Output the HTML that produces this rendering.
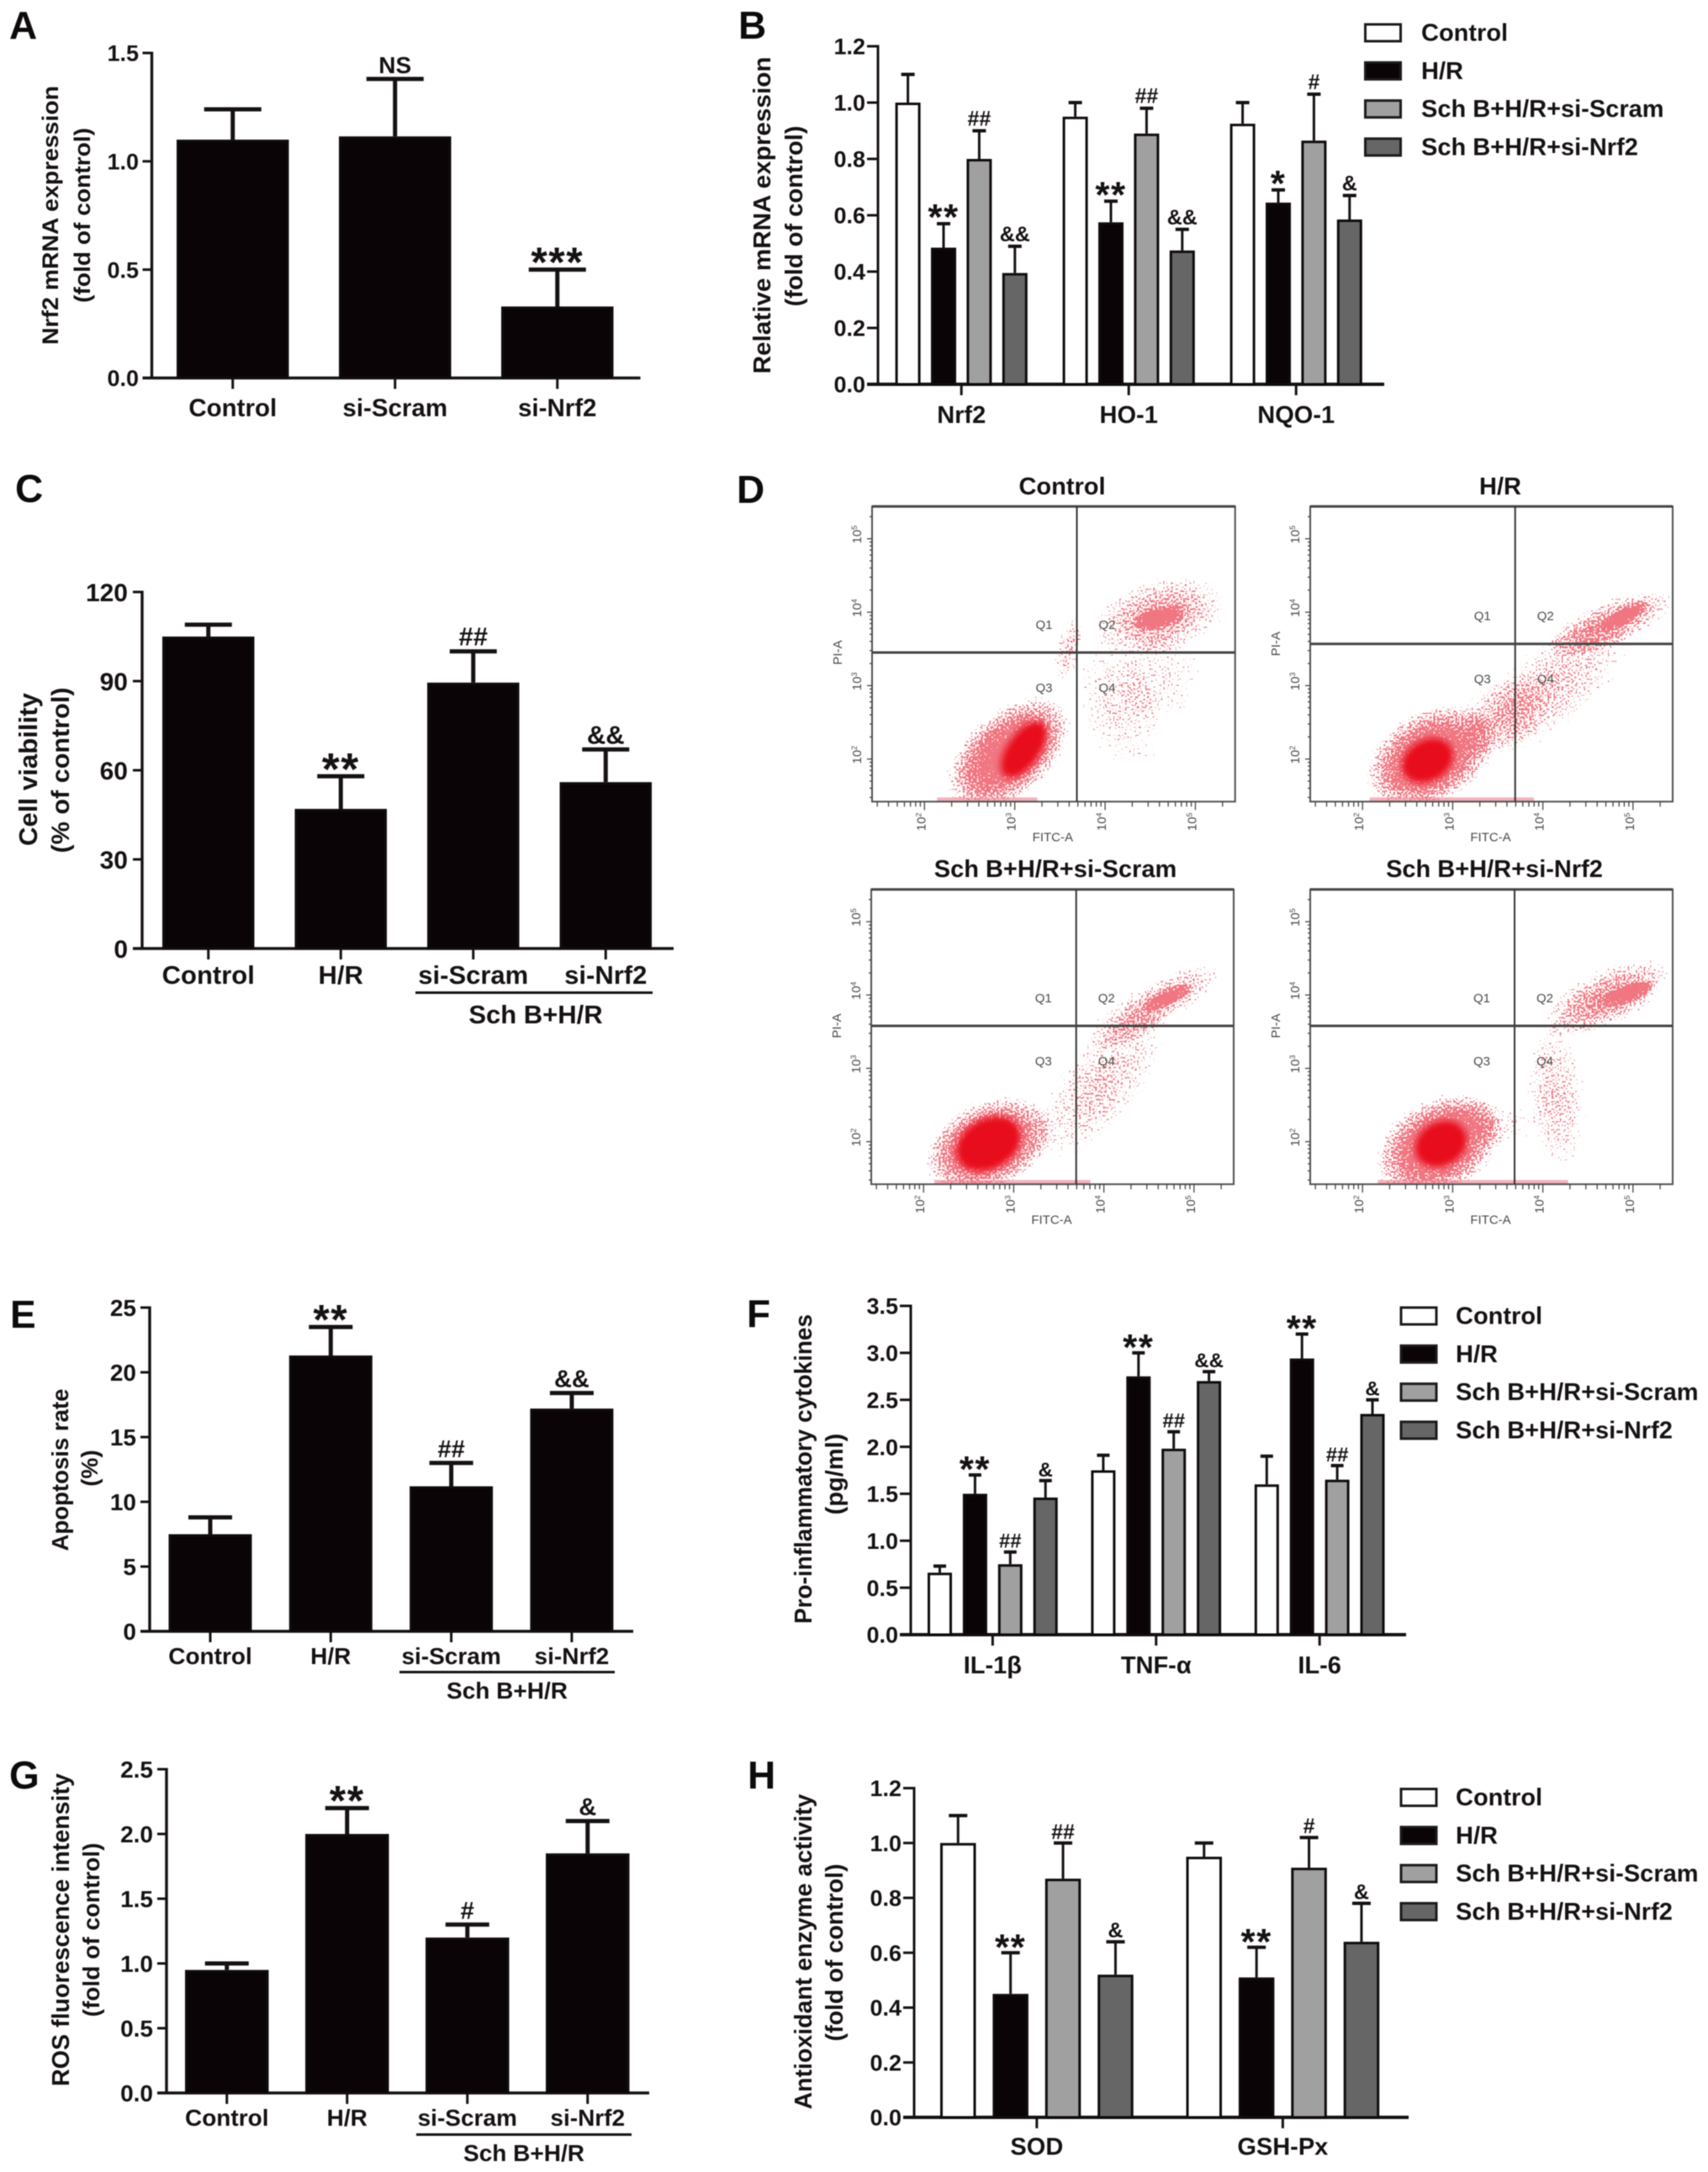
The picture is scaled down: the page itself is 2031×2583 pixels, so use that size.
<!DOCTYPE html>
<html lang="en">
<head>
<meta charset="utf-8">
<title>Schisandrin B figure panels</title>
<style>
html,body{margin:0;padding:0;background:#fff;}
#figure{display:block;width:2031px;height:2583px;filter:blur(0.5px);font-family:"Liberation Sans",Arial,sans-serif;}
text{font-family:"Liberation Sans",Arial,sans-serif;font-weight:700;fill:#161214;}
.ytitle{text-anchor:middle;}
.letter{font-size:46px;fill:#0d0b0c;}
.flowtitle{font-size:29px;text-anchor:middle;}
.small{font-size:15px;font-weight:400;fill:#4a4a4a;text-anchor:middle;}
.group{text-anchor:middle;}
</style>
</head>
<body>
<svg id="figure" xmlns="http://www.w3.org/2000/svg" width="2031" height="2583" viewBox="0 0 2031 2583">
  <defs>
    <radialGradient id="cloud-gradient">
      <stop offset="0" stop-color="#000" stop-opacity="0.98"/>
      <stop offset="0.55" stop-color="#000" stop-opacity="0.68"/>
      <stop offset="0.85" stop-color="#000" stop-opacity="0.34"/>
      <stop offset="1" stop-color="#000" stop-opacity="0"/>
    </radialGradient>
    <filter id="speckle" x="-15%" y="-15%" width="130%" height="130%" color-interpolation-filters="sRGB">
      <feTurbulence type="fractalNoise" baseFrequency="0.42" numOctaves="1" seed="11" result="noise"/>
      <feColorMatrix in="noise" type="matrix" values="0 0 0 0 0  0 0 0 0 0  0 0 0 0 0  1.5 0 0 0 -0.25" result="noiseAlpha"/>
      <feComposite in="SourceAlpha" in2="noiseAlpha" operator="arithmetic" k1="0" k2="1" k3="1" k4="0" result="sum"/>
      <feComponentTransfer in="sum" result="mask"><feFuncA type="linear" slope="10" intercept="-9.3"/></feComponentTransfer>
      <feFlood flood-color="#e6182a" flood-opacity="0.85" result="red"/>
      <feComposite in="red" in2="mask" operator="in" result="dots"/>
      <feComponentTransfer in="SourceAlpha" result="support"><feFuncA type="linear" slope="30" intercept="0"/></feComponentTransfer>
      <feComposite in="dots" in2="support" operator="in"/>
    </filter>
    <filter id="soft" x="-20%" y="-20%" width="140%" height="140%"><feGaussianBlur stdDeviation="4"/></filter>
  </defs>

  <rect x="0" y="0" width="2031" height="2583" fill="#ffffff"/>

  <g id="panel-a">
    <text class="letter" x="11" y="46">A</text>
    <text class="ytitle" font-size="27" textLength="308" lengthAdjust="spacingAndGlyphs" transform="translate(69,256) rotate(-90)">Nrf2 mRNA expression</text>
    <text class="ytitle" font-size="27" textLength="208" lengthAdjust="spacingAndGlyphs" transform="translate(107,256) rotate(-90)">(fold of control)</text>
  </g>

  <g id="panel-b">
    <text class="letter" x="878" y="46">B</text>
    <text class="ytitle" font-size="29" textLength="377" lengthAdjust="spacingAndGlyphs" transform="translate(916,256) rotate(-90)">Relative mRNA expression</text>
    <text class="ytitle" font-size="29" textLength="215" lengthAdjust="spacingAndGlyphs" transform="translate(954,257) rotate(-90)">(fold of control)</text>
  </g>

  <g id="panel-c">
    <text class="letter" x="18" y="597">C</text>
    <text class="ytitle" font-size="31" textLength="182" lengthAdjust="spacingAndGlyphs" transform="translate(44,915) rotate(-90)">Cell viability</text>
    <text class="ytitle" font-size="30" textLength="197" lengthAdjust="spacingAndGlyphs" transform="translate(82,916) rotate(-90)">(% of control)</text>
    <rect x="494" y="1179" width="282" height="3" fill="#161214"/>
    <text class="group" font-size="31" x="637" y="1217">Sch B+H/R</text>
  </g>

  <g id="panel-d">
    <text class="letter" x="876" y="598">D</text>
    <text class="flowtitle" x="1263" y="588">Control</text>
    <text class="flowtitle" x="1784" y="588">H/R</text>
    <text class="flowtitle" x="1255" y="1043">Sch B+H/R+si-Scram</text>
    <text class="flowtitle" x="1777" y="1043">Sch B+H/R+si-Nrf2</text>
  </g>

  <g id="panel-e">
    <text class="letter" x="12" y="1579">E</text>
    <text class="ytitle" font-size="28" textLength="193" lengthAdjust="spacingAndGlyphs" transform="translate(81,1748) rotate(-90)">Apoptosis rate</text>
    <text class="ytitle" font-size="28" transform="translate(116,1746) rotate(-90)">(%)</text>
    <rect x="475" y="1987" width="256" height="3" fill="#161214"/>
    <text class="group" font-size="28" x="603" y="2020">Sch B+H/R</text>
  </g>

  <g id="panel-f">
    <text class="letter" x="888" y="1578">F</text>
    <text class="ytitle" font-size="29" textLength="368" lengthAdjust="spacingAndGlyphs" transform="translate(965,1747) rotate(-90)">Pro-inflammatory cytokines</text>
    <text class="ytitle" font-size="29" transform="translate(1002,1753) rotate(-90)">(pg/ml)</text>
  </g>

  <g id="panel-g">
    <text class="letter" x="11" y="2127">G</text>
    <text class="ytitle" font-size="29" textLength="372" lengthAdjust="spacingAndGlyphs" transform="translate(82,2295) rotate(-90)">ROS fluorescence intensity</text>
    <text class="ytitle" font-size="28" textLength="207" lengthAdjust="spacingAndGlyphs" transform="translate(118,2295) rotate(-90)">(fold of control)</text>
    <rect x="495" y="2537" width="256" height="3" fill="#161214"/>
    <text class="group" font-size="28" x="623" y="2570">Sch B+H/R</text>
  </g>

  <g id="panel-h">
    <text class="letter" x="889" y="2127">H</text>
    <text class="ytitle" font-size="29" textLength="375" lengthAdjust="spacingAndGlyphs" transform="translate(965,2321) rotate(-90)">Antioxidant enzyme activity</text>
    <text class="ytitle" font-size="29" textLength="211" lengthAdjust="spacingAndGlyphs" transform="translate(1002,2322) rotate(-90)">(fold of control)</text>
  </g>
</svg>

<script>
// ---------- Chart data ----------
const seriesNames = ['Control', 'H/R', 'Sch B+H/R+si-Scram', 'Sch B+H/R+si-Nrf2'];

// Panel A
const panelACategories = ['Control', 'si-Scram', 'si-Nrf2'];
const panelATicks = ['0.0', '0.5', '1.0', '1.5'];
const panelATickValues = [0, 0.5, 1.0, 1.5];
const panelAMeans = [1.10, 1.115, 0.33];
const panelAUppers = [1.24, 1.38, 0.50];
const panelAMarks = ['', 'NS', '***'];

// Panel B
const panelBCategories = ['Nrf2', 'HO-1', 'NQO-1'];
const panelBTicks = ['0.0', '0.2', '0.4', '0.6', '0.8', '1.0', '1.2'];
const panelBTickValues = [0, 0.2, 0.4, 0.6, 0.8, 1.0, 1.2];
const panelBControl = [1.0, 0.95, 0.925];
const panelBHR = [0.485, 0.575, 0.645];
const panelBScram = [0.80, 0.89, 0.865];
const panelBNrf2 = [0.395, 0.475, 0.585];
const panelBControlUpper = [1.10, 1.0, 1.0];
const panelBHRUpper = [0.57, 0.65, 0.69];
const panelBScramUpper = [0.90, 0.98, 1.03];
const panelBNrf2Upper = [0.49, 0.55, 0.67];
const panelBHRMarks = ['**', '**', '*'];
const panelBScramMarks = ['##', '##', '#'];
const panelBNrf2Marks = ['&&', '&&', '&'];

// Panel C
const panelCCategories = ['Control', 'H/R', 'si-Scram', 'si-Nrf2'];
const panelCTicks = ['0', '30', '60', '90', '120'];
const panelCTickValues = [0, 30, 60, 90, 120];
const panelCMeans = [105, 47, 89.5, 56];
const panelCUppers = [109, 58, 100, 67];
const panelCMarks = ['', '**', '##', '&&'];

// Panel E
const panelECategories = ['Control', 'H/R', 'si-Scram', 'si-Nrf2'];
const panelETicks = ['0', '5', '10', '15', '20', '25'];
const panelETickValues = [0, 5, 10, 15, 20, 25];
const panelEMeans = [7.5, 21.3, 11.2, 17.2];
const panelEUppers = [8.8, 23.5, 13.0, 18.4];
const panelEMarks = ['', '**', '##', '&&'];

// Panel F
const panelFCategories = ['IL-1\u03B2', 'TNF-\u03B1', 'IL-6'];
const panelFTicks = ['0.0', '0.5', '1.0', '1.5', '2.0', '2.5', '3.0', '3.5'];
const panelFTickValues = [0, 0.5, 1.0, 1.5, 2.0, 2.5, 3.0, 3.5];
const panelFControl = [0.66, 1.75, 1.60];
const panelFHR = [1.50, 2.75, 2.94];
const panelFScram = [0.75, 1.98, 1.65];
const panelFNrf2 = [1.46, 2.70, 2.35];
const panelFControlUpper = [0.73, 1.91, 1.90];
const panelFHRUpper = [1.70, 3.00, 3.20];
const panelFScramUpper = [0.88, 2.16, 1.80];
const panelFNrf2Upper = [1.64, 2.80, 2.50];
const panelFHRMarks = ['**', '**', '**'];
const panelFScramMarks = ['##', '##', '##'];
const panelFNrf2Marks = ['&', '&&', '&'];

// Panel G
const panelGCategories = ['Control', 'H/R', 'si-Scram', 'si-Nrf2'];
const panelGTicks = ['0.0', '0.5', '1.0', '1.5', '2.0', '2.5'];
const panelGTickValues = [0, 0.5, 1.0, 1.5, 2.0, 2.5];
const panelGMeans = [0.95, 2.0, 1.2, 1.85];
const panelGUppers = [1.0, 2.2, 1.3, 2.1];
const panelGMarks = ['', '**', '#', '&'];

// Panel H
const panelHCategories = ['SOD', 'GSH-Px'];
const panelHTicks = ['0.0', '0.2', '0.4', '0.6', '0.8', '1.0', '1.2'];
const panelHTickValues = [0, 0.2, 0.4, 0.6, 0.8, 1.0, 1.2];
const panelHControl = [1.0, 0.95];
const panelHHR = [0.45, 0.51];
const panelHScram = [0.87, 0.91];
const panelHNrf2 = [0.52, 0.64];
const panelHControlUpper = [1.10, 1.0];
const panelHHRUpper = [0.60, 0.62];
const panelHScramUpper = [1.0, 1.02];
const panelHNrf2Upper = [0.64, 0.78];
const panelHHRMarks = ['**', '**'];
const panelHScramMarks = ['##', '#'];
const panelHNrf2Marks = ['&', '&'];

// Panel D: event clouds as [log FITC, log PI, FITC spread, PI spread, tilt, density]
const flowDecades = [2, 3, 4, 5];
const flowControlClouds = [
  [2.93, 2.07, 0.84, 0.60, -40, 0.96],
  [4.15, 2.72, 0.45, 0.95, -20, 0.32],
  [3.60, 3.50, 0.15, 0.50, 15, 0.42],
  [4.62, 3.10, 0.50, 0.65, 10, 0.26],
  [4.60, 3.95, 0.78, 0.52, -15, 0.58],
  [4.60, 3.92, 0.32, 0.16, -15, 0.85]
];
const flowControlCores = [[3.10, 2.13, 0.36, 0.22, -55]];
const flowControlStripe = [2.14, 3.25];
const flowHRClouds = [
  [2.75, 2.02, 0.80, 0.66, -30, 0.96],
  [3.55, 2.60, 0.55, 0.50, -30, 0.30],
  [4.05, 2.95, 1.15, 0.58, -38, 0.42],
  [4.75, 3.85, 0.80, 0.32, -22, 0.60],
  [4.90, 3.95, 0.32, 0.12, -28, 0.90]
];
const flowHRCores = [[2.72, 1.98, 0.30, 0.28, -30]];
const flowHRStripe = [2.08, 3.90];
const flowScramClouds = [
  [2.72, 1.95, 0.78, 0.62, -25, 0.96],
  [3.95, 2.75, 1.05, 0.55, -50, 0.40],
  [4.55, 3.85, 0.90, 0.32, -30, 0.55],
  [4.70, 3.97, 0.32, 0.12, -25, 0.80]
];
const flowScramCores = [[2.72, 1.97, 0.38, 0.34, -30]];
const flowScramStripe = [2.12, 3.85];
const flowNrf2Clouds = [
  [2.85, 1.95, 0.78, 0.66, -30, 0.96],
  [3.40, 2.25, 0.55, 0.32, 0, 0.28],
  [4.15, 2.60, 0.34, 1.05, -5, 0.40],
  [4.70, 3.95, 0.82, 0.40, -25, 0.62],
  [4.95, 4.02, 0.32, 0.14, -20, 0.90]
];
const flowNrf2Cores = [[2.87, 1.97, 0.30, 0.30, -30]];
const flowNrf2Stripe = [2.17, 4.28];

// ---------- Drawing helpers ----------
const SVG_NS = 'http://www.w3.org/2000/svg';
const solidFill = ['#0a0406'];
const seriesFills = ['#ffffff', '#0a0406', '#a0a0a0', '#666666'];
const inkColor = '#161214';

function make(parent, tag, attrs) {
  const node = document.createElementNS(SVG_NS, tag);
  for (const key in attrs) node.setAttribute(key, attrs[key]);
  parent.appendChild(node);
  return node;
}

function drawAxisTicks(root, g, layout, tickValues, tickLabels, yScale) {
  const axisLine = make(root, 'line', {x1: g.axisX, x2: g.axisX, y1: yScale(layout.yMax) - 1.5, y2: layout.yZero + 1.5, stroke: inkColor, 'stroke-width': g.axisWidth});
  
  
  const baseLine = make(root, 'line', {x1: g.axisX - g.tickLen, x2: layout.xEnd, y1: layout.yZero, y2: layout.yZero, stroke: inkColor, 'stroke-width': g.baseWidth});
  
  
  tickValues.forEach(function (value, index) {
    const y = yScale(value);
    const tick = make(root, 'line', {x1: g.axisX - g.tickLen, x2: g.axisX, y1: y, y2: y, stroke: inkColor, 'stroke-width': 3});
    
    
    const label = make(root, 'text', {x: g.labelRight, y: y + g.tickFont * 0.36, 'font-size': g.tickFont, 'text-anchor': 'end'});
    label.textContent = tickLabels[index];
    
    
  });
}

function drawBars(panelId, layout, categories, tickValues, tickLabels, meansBySeries, uppersBySeries, marksBySeries, fills) {
  const root = document.getElementById(panelId);
  const span = layout.yZero - layout.yTop;
  const yScale = function (value) { return layout.yZero - value / layout.yMax * span; };
  const barLeft = function (groupIndex, seriesIndex) { return layout.firstBar + groupIndex * layout.groupPitch + seriesIndex * layout.barPitch; };
  drawAxisTicks(root, layout, layout, tickValues, tickLabels, yScale);

  categories.forEach(function (category, groupIndex) {
    const center = barLeft(groupIndex, 0) + ((meansBySeries.length - 1) * layout.barPitch + layout.barWidth) / 2;
    const xTick = make(root, 'line', {x1: center, x2: center, y1: layout.yZero, y2: layout.yZero + layout.xTickLen, stroke: inkColor, 'stroke-width': 3});
    
    
    const label = make(root, 'text', {x: center, y: layout.xLabelY, 'font-size': layout.xFont, 'text-anchor': 'middle'});
    label.textContent = category;
    
    
  });

  meansBySeries.forEach(function (means, seriesIndex) {
    means.forEach(function (value, groupIndex) {
      const left = barLeft(groupIndex, seriesIndex);
      const center = left + layout.barWidth / 2;
      const top = yScale(value);
      const capY = yScale(uppersBySeries[seriesIndex][groupIndex]);
      const stem = make(root, 'line', {x1: center, x2: center, y1: top, y2: capY, stroke: inkColor, 'stroke-width': layout.stemWidth});
      
      
      const cap = make(root, 'line', {x1: center - layout.capWidth / 2, x2: center + layout.capWidth / 2, y1: capY, y2: capY, stroke: inkColor, 'stroke-width': layout.capThick});
      
      
      const bar = make(root, 'rect', {x: left + 1.5, y: top + 1.5, width: layout.barWidth - 3, height: Math.max(0, layout.yZero - top - 1.5), fill: fills[seriesIndex], stroke: '#100c0e', 'stroke-width': 3});
      
      
      const mark = marksBySeries[seriesIndex] ? marksBySeries[seriesIndex][groupIndex] : '';
      if (mark) {
        const isStar = mark.charAt(0) === '*';
        const size = isStar ? layout.starFont : layout.noteFont;
        const baseline = isStar ? capY - layout.markGap - 4 + size * 0.39 : capY - layout.markGap;
        const note = make(root, 'text', {x: center, y: baseline, 'font-size': size, 'text-anchor': 'middle', 'letter-spacing': isStar ? 1.5 : 0});
        note.textContent = mark;
        
        
      }
    });
  });
}

function drawLegend(panelId, swatchX, textX, firstY) {
  const root = document.getElementById(panelId);
  const rowPitch = 45.3;
  seriesNames.forEach(function (name, index) {
    const y = firstY + index * rowPitch;
    const swatch = make(root, 'rect', {x: swatchX + 1.5, y: y + 1.5, width: 42, height: 20, fill: seriesFills[index], stroke: '#1c1a1b', 'stroke-width': 3});
    
    
    const label = make(root, 'text', {x: textX, y: y + 21, 'font-size': 29});
    label.textContent = name;
    
    
  });
}

let flowClipCount = 0;
function drawFlow(box, clouds, cores, stripe, quadX, quadY) {
  const root = document.getElementById('panel-d');
  const domainMin = 1.42;
  const domainMax = 5.44;
  const fx = function (logValue) { return box.left + (logValue - domainMin) / (domainMax - domainMin) * (box.right - box.left); };
  const fy = function (logValue) { return box.bottom - (logValue - domainMin) / (domainMax - domainMin) * (box.bottom - box.top); };
  const decadeX = fx(1) - fx(0);
  const decadeY = fy(0) - fy(1);
  flowClipCount += 1;
  const clipId = 'flow-clip-' + flowClipCount;
  const clip = make(root, 'clipPath', {id: clipId});
  make(clip, 'rect', {x: box.left, y: box.top, width: box.right - box.left, height: box.bottom - box.top});

  const plot = make(root, 'g', {'clip-path': 'url(#' + clipId + ')'});
  
  
  const speckled = make(plot, 'g', {filter: 'url(#speckle)'});
  
  
  clouds.forEach(function (cloud) {
    const cx = fx(cloud[0]);
    const cy = fy(cloud[1]);
    const shape = make(speckled, 'ellipse', {cx: cx, cy: cy, rx: cloud[2] * decadeX, ry: cloud[3] * decadeY, transform: 'rotate(' + cloud[4] + ' ' + cx + ' ' + cy + ')', fill: 'url(#cloud-gradient)', opacity: cloud[5]});
    
    
  });
  cores.forEach(function (core) {
    const cx = fx(core[0]);
    const cy = fy(core[1]);
    const shape = make(plot, 'ellipse', {cx: cx, cy: cy, rx: core[2] * decadeX, ry: core[3] * decadeY, transform: 'rotate(' + core[4] + ' ' + cx + ' ' + cy + ')', fill: '#e8101c', filter: 'url(#soft)'});
    
    
  });
  const band = make(plot, 'rect', {x: fx(stripe[0]), y: box.bottom - 5, width: fx(stripe[1]) - fx(stripe[0]), height: 5, fill: '#ee7f90', opacity: 0.6});
  
  

  const frame = make(root, 'rect', {x: box.left, y: box.top, width: box.right - box.left, height: box.bottom - box.top, fill: 'none', stroke: '#505050', 'stroke-width': 2});
  
  
  const topEdge = make(root, 'line', {x1: box.left, x2: box.right, y1: box.top, y2: box.top, stroke: '#444', 'stroke-width': 3});
  
  
  const vertical = make(root, 'line', {x1: quadX, x2: quadX, y1: box.top, y2: box.bottom, stroke: '#333', 'stroke-width': 2});
  
  
  const horizontal = make(root, 'line', {x1: box.left, x2: box.right, y1: quadY, y2: quadY, stroke: '#444', 'stroke-width': 3});
  
  

  for (let power = 1; power <= 5; power += 1) {
    for (let step = 1; step <= 9; step += 1) {
      const logValue = power + Math.log10(step);
      if (logValue < domainMin || logValue > domainMax) continue;
      const major = step === 1;
      const xMinor = make(root, 'line', {x1: fx(logValue), x2: fx(logValue), y1: box.bottom, y2: box.bottom + (major ? 10 : 6), stroke: '#444', 'stroke-width': 1.3});
      
      
      const yMinor = make(root, 'line', {x1: box.left - (major ? 6 : 3), x2: box.left, y1: fy(logValue), y2: fy(logValue), stroke: '#444', 'stroke-width': 1.3});
      
      
    }
  }

  flowDecades.forEach(function (decade) {
    const xLabel = make(root, 'text', {class: 'small', transform: 'translate(' + (fx(decade) + 1) + ',' + (box.bottom + 24) + ') rotate(-90)', 'font-size': 14});
    xLabel.textContent = '10';
    const xPower = make(xLabel, 'tspan', {dy: -5, 'font-size': 9});
    xPower.textContent = String(decade);
    
    
    const yLabel = make(root, 'text', {class: 'small', transform: 'translate(' + (box.left - 13) + ',' + (fy(decade) - 5) + ') rotate(-90)', 'font-size': 14});
    yLabel.textContent = '10';
    const yPower = make(yLabel, 'tspan', {dy: -5, 'font-size': 9});
    yPower.textContent = String(decade);
    
    
  });

  const quadrantOffsetX = 38;
  ['Q1', 'Q2', 'Q3', 'Q4'].forEach(function (name, index) {
    const x = quadX + (index % 2 === 0 ? -quadrantOffsetX - 1 : quadrantOffsetX - 2);
    const y = quadY + box.quadYOffsets[index < 2 ? 0 : 1];
    const label = make(root, 'text', {class: 'small', x: x, y: y});
    label.textContent = name;
    
    
  });

  const fitc = make(root, 'text', {class: 'small', x: (box.left + box.right) / 2 - 1, y: box.bottom + 47});
  fitc.textContent = 'FITC-A';
  
  
  const pi = make(root, 'text', {class: 'small', transform: 'translate(' + (box.left - 36) + ',' + (quadY) + ') rotate(-90)'});
  pi.textContent = 'PI-A';
  
  
}

// ---------- Panels ----------
const bigStyle = {axisWidth: 3.4, baseWidth: 3.6, tickLen: 11, xTickLen: 13, stemWidth: 5, capThick: 5};
const smallStyle = {axisWidth: 3, baseWidth: 4, tickLen: 13, xTickLen: 13, stemWidth: 3, capThick: 4};

drawBars('panel-a', Object.assign({}, bigStyle, {axisX: 180.5, yTop: 63, yZero: 449.5, yMax: 1.5, xEnd: 761.5, firstBar: 210, barWidth: 133.5, barPitch: 0, groupPitch: 193, capWidth: 68, xLabelY: 495, xFont: 29.5, tickFont: 27, labelRight: 165, starFont: 50, noteFont: 28, markGap: 7}),
  panelACategories, panelATickValues, panelATicks, [panelAMeans], [panelAUppers], [panelAMarks], solidFill);

drawBars('panel-b', Object.assign({}, smallStyle, {axisX: 1044, yTop: 55, yZero: 457, yMax: 1.2, xEnd: 1646, firstBar: 1064.6, barWidth: 30, barPitch: 42.4, groupPitch: 199, capWidth: 16, xLabelY: 503, xFont: 29, tickFont: 27, labelRight: 1029, starFont: 44, noteFont: 25, markGap: 6}),
  panelBCategories, panelBTickValues, panelBTicks,
  [panelBControl, panelBHR, panelBScram, panelBNrf2],
  [panelBControlUpper, panelBHRUpper, panelBScramUpper, panelBNrf2Upper],
  [null, panelBHRMarks, panelBScramMarks, panelBNrf2Marks], seriesFills);
drawLegend('panel-b', 1622, 1690, 27.5);

drawBars('panel-c', Object.assign({}, bigStyle, {axisX: 169, yTop: 704, yZero: 1128, yMax: 120, xEnd: 801, firstBar: 193, barWidth: 109.5, barPitch: 0, groupPitch: 157.5, capWidth: 56, xLabelY: 1170, xFont: 31, tickFont: 30, labelRight: 152, starFont: 54, noteFont: 31, markGap: 7}),
  panelCCategories, panelCTickValues, panelCTicks, [panelCMeans], [panelCUppers], [panelCMarks], solidFill);

drawFlow({left: 1037, right: 1468.7, top: 602.3, bottom: 953.3, quadYOffsets: [-28, 47]}, flowControlClouds, flowControlCores, flowControlStripe, 1280.5, 776);
drawFlow({left: 1558, right: 1989, top: 602.3, bottom: 953.3, quadYOffsets: [-28, 47]}, flowHRClouds, flowHRCores, flowHRStripe, 1801.7, 765.7);
drawFlow({left: 1036, right: 1467, top: 1057.7, bottom: 1408.3, quadYOffsets: [-28, 47]}, flowScramClouds, flowScramCores, flowScramStripe, 1279.7, 1220);
drawFlow({left: 1558, right: 1989, top: 1057.7, bottom: 1408.3, quadYOffsets: [-28, 47]}, flowNrf2Clouds, flowNrf2Cores, flowNrf2Stripe, 1801, 1220);

drawBars('panel-e', Object.assign({}, bigStyle, {axisX: 178, yTop: 1555, yZero: 1940, yMax: 25, xEnd: 753, firstBar: 200.5, barWidth: 99, barPitch: 0, groupPitch: 143.3, capWidth: 52, xLabelY: 1979, xFont: 28, tickFont: 28, labelRight: 162, starFont: 50, noteFont: 29, markGap: 7}),
  panelECategories, panelETickValues, panelETicks, [panelEMeans], [panelEUppers], [panelEMarks], solidFill);

drawBars('panel-f', Object.assign({}, smallStyle, {axisX: 1083, yTop: 1553, yZero: 1944, yMax: 3.5, xEnd: 1672, firstBar: 1103, barWidth: 29, barPitch: 41.9, groupPitch: 194.4, capWidth: 15, xLabelY: 1990, xFont: 29, tickFont: 27, labelRight: 1068, starFont: 44, noteFont: 24, markGap: 5}),
  panelFCategories, panelFTickValues, panelFTicks,
  [panelFControl, panelFHR, panelFScram, panelFNrf2],
  [panelFControlUpper, panelFHRUpper, panelFScramUpper, panelFNrf2Upper],
  [null, panelFHRMarks, panelFScramMarks, panelFNrf2Marks], seriesFills);
drawLegend('panel-f', 1664.5, 1731, 1553.5);

drawBars('panel-g', Object.assign({}, bigStyle, {axisX: 198, yTop: 2104, yZero: 2489, yMax: 2.5, xEnd: 772, firstBar: 220, barWidth: 99.5, barPitch: 0, groupPitch: 143, capWidth: 52, xLabelY: 2528, xFont: 28, tickFont: 28, labelRight: 182, starFont: 50, noteFont: 29, markGap: 7}),
  panelGCategories, panelGTickValues, panelGTicks, [panelGMeans], [panelGUppers], [panelGMarks], solidFill);

drawBars('panel-h', Object.assign({}, smallStyle, {axisX: 1087, yTop: 2126.5, yZero: 2518, yMax: 1.2, xEnd: 1675, firstBar: 1118, barWidth: 42.5, barPitch: 62.4, groupPitch: 292.5, capWidth: 22, xLabelY: 2562.6, xFont: 29, tickFont: 27, labelRight: 1072, starFont: 44, noteFont: 25, markGap: 5}),
  panelHCategories, panelHTickValues, panelHTicks,
  [panelHControl, panelHHR, panelHScram, panelHNrf2],
  [panelHControlUpper, panelHHRUpper, panelHScramUpper, panelHNrf2Upper],
  [null, panelHHRMarks, panelHScramMarks, panelHNrf2Marks], seriesFills);
drawLegend('panel-h', 1664.5, 1731, 2126);
</script>
</body>
</html>
